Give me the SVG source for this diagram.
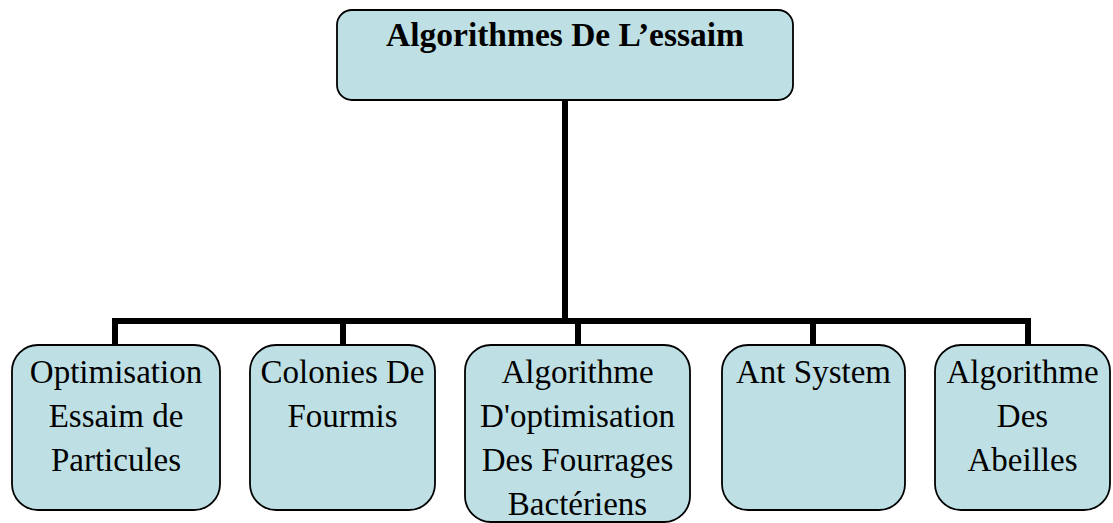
<svg xmlns="http://www.w3.org/2000/svg" width="1113" height="523" viewBox="0 0 1113 523">
<style>
.box{fill:#bee0e4;stroke:#000;stroke-width:1.8}
.t{font-family:"Liberation Serif","Times New Roman",serif;font-size:33px;fill:#000;text-anchor:middle}
.b{font-weight:bold;font-size:33.5px}
.c{fill:none;stroke:#000;stroke-width:6;stroke-linecap:butt;stroke-linejoin:miter}
</style>
<rect width="1113" height="523" fill="#fff"/>
<g id="connectors">
<path class="c" d="M565 100V321"/>
<path class="c" d="M115 345V321H1028V345"/>
<path class="c" d="M343 321V345M578 321V345M813 321V345"/>
</g>
<g id="root">
<rect class="box" x="337" y="10" width="456" height="90" rx="15"/>
<text class="t b" x="565" y="46">Algorithmes De L’essaim</text>
</g>
<g id="pso">
<rect class="box" x="12" y="345" width="208" height="165" rx="26"/>
<text class="t" x="116" y="383">Optimisation</text>
<text class="t" x="116" y="427">Essaim de</text>
<text class="t" x="116" y="471">Particules</text>
</g>
<g id="aco">
<rect class="box" x="250" y="345" width="185" height="165" rx="26"/>
<text class="t" x="342.5" y="383">Colonies De</text>
<text class="t" x="342.5" y="427">Fourmis</text>
</g>
<g id="bfo">
<rect class="box" x="465" y="345" width="225" height="177" rx="26"/>
<text class="t" x="577.5" y="383">Algorithme</text>
<text class="t" x="577.5" y="427">D'optimisation</text>
<text class="t" x="577.5" y="471">Des Fourrages</text>
<text class="t" x="577.5" y="515">Bactériens</text>
</g>
<g id="as">
<rect class="box" x="722" y="345" width="183" height="165" rx="26"/>
<text class="t" x="813.5" y="383">Ant System</text>
</g>
<g id="abc">
<rect class="box" x="935" y="345" width="175" height="165" rx="26"/>
<text class="t" x="1022.5" y="383">Algorithme</text>
<text class="t" x="1022.5" y="427">Des</text>
<text class="t" x="1022.5" y="471">Abeilles</text>
</g>
</svg>
